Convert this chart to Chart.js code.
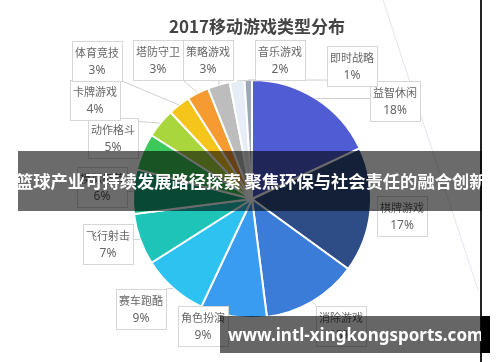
<!DOCTYPE html>
<html>
<head>
<meta charset="utf-8">
<script src="https://cdn.jsdelivr.net/npm/chart.js@4"></script>
<style>
	body { margin: 0; background: #fff; }
	#wrap { position: relative; width: 500px; height: 362px; overflow: hidden; background: #fff; }
	#c { position: absolute; left: 0; top: 0; }
	#banner {
		position: absolute; left: 18px; top: 151px; width: 464px; height: 60px;
		background: rgba(0, 0, 0, 0.58); color: #fff; white-space: nowrap; overflow: hidden;
		font: bold 17.3px "Noto Sans CJK SC", sans-serif; line-height: 60px; text-indent: -2px;
	}
	#mark {
		position: absolute; left: 220px; top: 316px; width: 261px; height: 37px;
		background: rgba(0, 0, 0, 0.6); color: #fff; white-space: nowrap;
		font: bold 17px "Noto Sans", sans-serif; line-height: 37px; text-indent: 8px;
	}
	#markEnd { position: absolute; left: 481px; top: 316px; width: 9px; height: 37px; background: #000; }
	#edge { position: absolute; left: 480px; top: 0; width: 2px; height: 362px; background: #222; }
</style>
</head>
<body>
<div id="wrap">
	<canvas id="c" width="500" height="362"></canvas>
	<div id="edge"></div>
	<div id="banner">篮球产业可持续发展路径探索 聚焦环保与社会责任的融合创新</div>
	<div id="mark">www.intl-xingkongsports.com</div>
	<div id="markEnd"></div>
</div>
<script>

// 2017 mobile game genres, share in percent
let chartTitle = "2017移动游戏类型分布";
let categories = ["益智休闲", "棋牌游戏", "消除游戏", "角色扮演", "赛车跑酷", "飞行射击", "模拟经营",
	"动作格斗", "卡牌游戏", "体育竞技", "塔防守卫", "策略游戏", "音乐游戏", "即时战略"];
let shares = [18, 17, 13, 9, 9, 7, 6, 5, 4, 3, 3, 3, 2, 1];

let sliceColors = ["#4f5cd4", "#2e4d86", "#3b7cd8", "#3a9cf0", "#2ec2f0", "#1fc4b8", "#17ad7c",
	"#3cc85a", "#a8d63c", "#f6c51c", "#f59b32", "#bdbdbd", "#e6edf7", "#9ea7b8"];

// centre of each callout box (layout only)
let boxCenters = [[395, 101], [402, 216], [341, 326], [203, 326], [141, 309], [108, 244], [102, 187],
	[113, 138], [95, 100], [97, 61], [158, 60], [208, 60], [280, 60], [352, 66]];
let BOX_W = 50;
let BOX_H = 40;

let calloutPlugin = {
	id: "callouts",
	afterDatasetsDraw(chart) {

		let ctx = chart.ctx;
		let arcs = chart.getDatasetMeta(0).data;

		ctx.save();

		// faint background stroke
		ctx.strokeStyle = "rgba(200,205,220,0.5)";
		ctx.lineWidth = 1;
		ctx.beginPath();
		ctx.moveTo(383, 0);
		ctx.lineTo(478, 290);
		ctx.stroke();

		// leader lines
		ctx.strokeStyle = "#cfcfcf";
		ctx.lineWidth = 1;
		arcs.forEach(function(arc, i) {
			let mid = (arc.startAngle + arc.endAngle) / 2;
			let ax = arc.x + Math.cos(mid) * arc.outerRadius;
			let ay = arc.y + Math.sin(mid) * arc.outerRadius;
			let bx = boxCenters[i][0], by = boxCenters[i][1];
			let px = Math.max(bx - BOX_W / 2, Math.min(ax, bx + BOX_W / 2));
			let py = Math.max(by - BOX_H / 2, Math.min(ay, by + BOX_H / 2));
			ctx.beginPath();
			ctx.moveTo(ax, ay);
			ctx.lineTo(px, py);
			ctx.stroke();
		});

		// boxes and text
		ctx.textAlign = "center";
		ctx.textBaseline = "middle";
		arcs.forEach(function(arc, i) {
			let bx = boxCenters[i][0], by = boxCenters[i][1];
			ctx.fillStyle = "#fff";
			ctx.fillRect(bx - BOX_W / 2, by - BOX_H / 2, BOX_W, BOX_H);
			ctx.strokeStyle = "#d6d6d6";
			ctx.strokeRect(bx - BOX_W / 2 + 0.5, by - BOX_H / 2 + 0.5, BOX_W, BOX_H);
			ctx.fillStyle = "#666";
			ctx.font = "11px 'Noto Sans CJK SC', sans-serif";
			ctx.fillText(categories[i], bx, by - 8);
			ctx.font = "12px 'Noto Sans', sans-serif";
			ctx.fillText(shares[i] + "%", bx, by + 10);
		});

		// title
		ctx.fillStyle = "#444";
		ctx.font = "bold 17px 'Noto Sans CJK SC', sans-serif";
		ctx.fillText(chartTitle, 257, 27);

		ctx.restore();
	}
};

let pieChart = new Chart(document.getElementById("c"), {
	type: "pie",
	data: {
		labels: categories,
		datasets: [{
			data: shares,
			backgroundColor: sliceColors,
			borderColor: "#fff",
			borderWidth: 2
		}]
	},
	options: {
		responsive: false,
		animation: false,
		layout: {
			padding: { left: 132, right: 128, top: 79, bottom: 43 }
		},
		plugins: {
			legend: { display: false },
			tooltip: { enabled: false }
		}
	},
	plugins: [calloutPlugin]
});

</script>
</body>
</html>
